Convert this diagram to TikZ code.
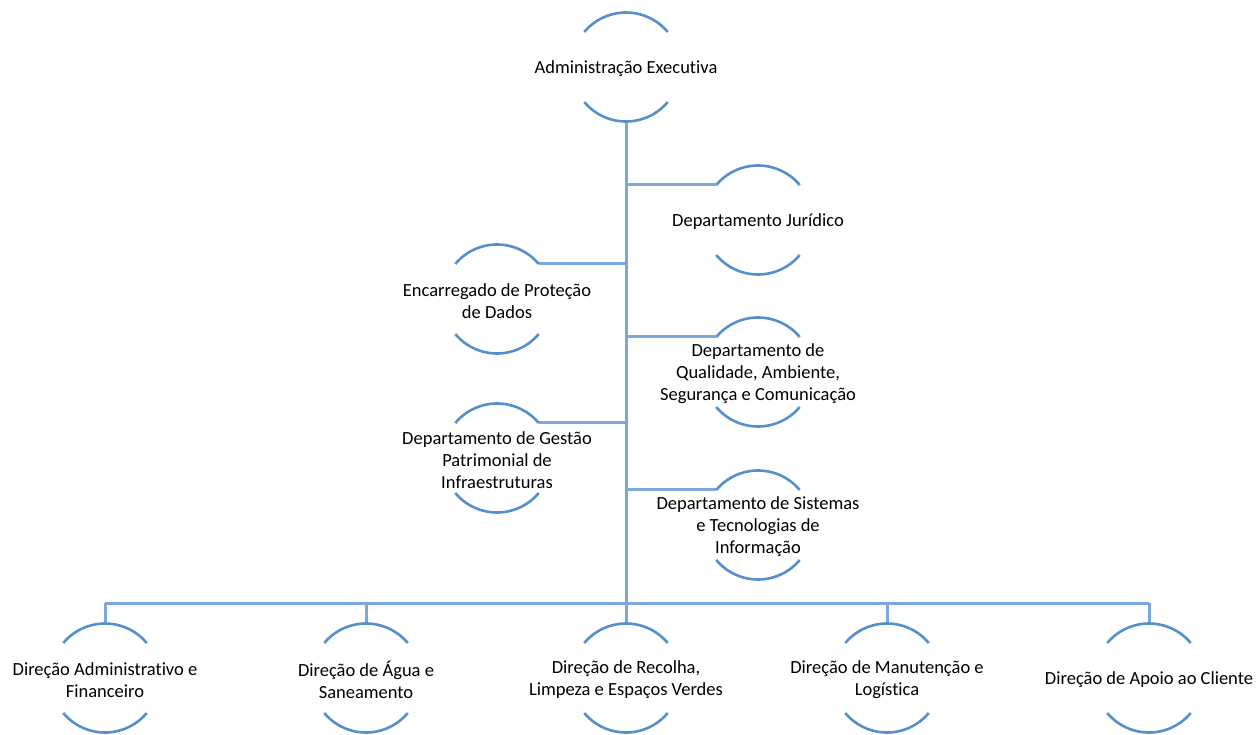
\documentclass[tikz,border=0pt]{standalone}
\usepackage{fontspec}
\setmainfont{Carlito}[Ligatures=CommonOff]
\definecolor{arcblue}{HTML}{5590CC}
\definecolor{linkblue}{HTML}{7CA7DA}
\newcommand{\ringarcs}[1]{%
  \draw[arcline] (#1.40) arc[start angle=40,end angle=140,radius=54.5];
  \draw[arcline] (#1.220) arc[start angle=220,end angle=320,radius=54.5];}
\begin{document}
\begin{tikzpicture}[x=1pt,y=1pt,
  ring/.style={circle,minimum size=109pt,inner sep=0pt,outer sep=0pt},
  txt/.style={align=center,font=\fontsize{18.5}{22}\selectfont,inner sep=0pt,yshift=-2pt},
  arcline/.style={draw=arcblue,line width=2.6pt},
  link/.style={draw=linkblue,line width=3pt}]
\useasboundingbox (0,0) rectangle (1256,-734);
% nodes
\node[ring] (top) at (626,-67) {};
\node[ring] (jur) at (758,-220) {};
\node[ring] (enc) at (497,-299) {};
\node[ring] (qua) at (758,-372) {};
\node[ring] (ges) at (497,-458) {};
\node[ring] (sis) at (758,-525) {};
\node[ring] (b1) at (105,-678) {};
\node[ring] (b2) at (366,-678) {};
\node[ring] (b3) at (626,-678) {};
\node[ring] (b4) at (887,-678) {};
\node[ring] (b5) at (1149,-678) {};
% connectors
\coordinate (busL) at (105,-603);
\coordinate (busR) at (1149,-603);
\coordinate (trunkEnd) at (626,-603);
\draw[link] (top.south) -- (trunkEnd);
\draw[link] (busL) -- (busR);
\foreach \n/\a in {jur/140,enc/40,qua/140,ges/40,sis/140}{
  \draw[link] (top.south |- \n.\a) -- (\n.\a);}
\foreach \n in {b1,b2,b3,b4,b5}{\draw[link] (\n |- busL) -- (\n.north);}
% arcs
\ringarcs{top}\ringarcs{jur}\ringarcs{enc}\ringarcs{qua}\ringarcs{ges}\ringarcs{sis}
\ringarcs{b1}\ringarcs{b2}\ringarcs{b3}\ringarcs{b4}\ringarcs{b5}
% texts
\node[txt] (topt) at (top) {Administração Executiva};
\node[txt] (jurt) at (jur) {Departamento Jurídico};
\node[txt] (enct) at (enc) {Encarregado de Proteção\\de Dados};
\node[txt] (quat) at (qua) {Departamento de\\Qualidade, Ambiente,\\Segurança e Comunicação};
\node[txt] (gest) at (ges) {Departamento de Gestão\\Patrimonial de\\Infraestruturas};
\node[txt] (sist) at (sis) {Departamento de Sistemas\\e Tecnologias de\\Informação};
\node[txt] (b1t) at (b1) {Direção Administrativo e\\Financeiro};
\node[txt] (b2t) at (b2) {Direção de Água e\\Saneamento};
\node[txt] (b3t) at (b3) {Direção de Recolha,\\Limpeza e Espaços Verdes};
\node[txt] (b4t) at (b4) {Direção de Manutenção e\\Logística};
\node[txt] (b5t) at (b5) {Direção de Apoio ao Cliente};
\end{tikzpicture}
\end{document}
